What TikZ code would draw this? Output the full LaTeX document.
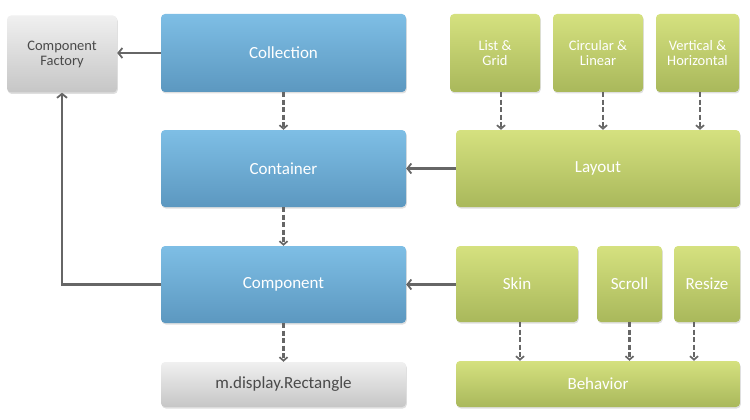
\documentclass[tikz,border=0pt]{standalone}
\usepackage{fontspec}
\setmainfont{Carlito}
\usetikzlibrary{arrows.meta,shadows,calc}
\definecolor{bluetop}{HTML}{7EBEE5}
\definecolor{bluebot}{HTML}{5C98C0}
\definecolor{greentop}{HTML}{D5E17F}
\definecolor{greenbot}{HTML}{A9B85B}
\definecolor{graytop}{HTML}{F0F0F0}
\definecolor{graybot}{HTML}{C6C6C6}
\definecolor{linegray}{HTML}{666666}
\definecolor{graytext}{HTML}{4A4A4A}
\tikzset{
  basebox/.style={rectangle, rounded corners=4pt, inner sep=2pt, align=center,
    drop shadow={opacity=0.25, shadow xshift=0.8pt, shadow yshift=-1.5pt}},
  bluebox/.style={basebox, top color=bluetop, bottom color=bluebot, text=white,
    font=\fontsize{17}{18}\selectfont},
  greenbig/.style={basebox, top color=greentop, bottom color=greenbot, text=white,
    font=\fontsize{17}{18}\selectfont},
  greensmall/.style={basebox, top color=greentop, bottom color=greenbot, text=white,
    font=\fontsize{14.5}{15}\selectfont},
  graybox/.style={basebox, top color=graytop, bottom color=graybot, text=graytext},
  solidarrow/.style={draw=linegray, line width=2.6pt, -{Straight Barb[length=4pt,width=10pt,line width=1.8pt]}},
  dasharrow/.style={draw=linegray, line width=2.6pt, dash pattern=on 5pt off 2.5pt,
    -{Straight Barb[length=3.5pt,width=8pt,line width=1.7pt]}},
}
\begin{document}
\begin{tikzpicture}[x=1pt,y=-1pt]
\useasboundingbox (0,0) rectangle (750,420);
% gray boxes
\node[graybox, minimum width=110pt, minimum height=77pt, font=\fontsize{14.5}{15}\selectfont] (fact) at (62,54) {Component\\Factory};
\node[graybox, minimum width=245pt, minimum height=45pt, font=\fontsize{17}{18}\selectfont] (rect) at (283.5,384.5) {m.display.Rectangle};
% blue boxes
\node[bluebox, minimum width=245pt, minimum height=78pt] (coll) at (283.5,53) {Collection};
\node[bluebox, minimum width=245pt, minimum height=77pt] (cont) at (283.5,168.5) {Container};
\node[bluebox, minimum width=245pt, minimum height=77pt] (comp) at (283.5,284.5) {Component};
% green boxes
\node[greensmall, minimum width=90pt, minimum height=78pt] (lg) at (495,53) {List \&\\Grid};
\node[greensmall, minimum width=90pt, minimum height=78pt] (cl) at (598,53) {Circular \&\\Linear};
\node[greensmall, minimum width=83pt, minimum height=78pt] (vh) at (697.5,53) {Vertical \&\\Horizontal};
\node[greenbig, minimum width=284pt, minimum height=77pt] (lay) at (598,168.5) {Layout};
\node[greenbig, minimum width=122pt, minimum height=76pt] (skin) at (517,284) {Skin};
\node[greenbig, minimum width=65pt, minimum height=76pt] (scroll) at (629.5,284) {Scroll};
\node[greenbig, minimum width=66pt, minimum height=76pt] (resize) at (707,284) {Resize};
\node[greenbig, minimum width=284pt, minimum height=46pt] (beh) at (598,384) {Behavior};
% solid arrows
\draw[solidarrow] (coll.west) -- (fact.east |- coll.west);
\draw[solidarrow] (comp.west) -| (fact.south);
\draw[solidarrow] (lay.west) -- (cont.east |- lay.west);
\draw[solidarrow] (skin.west |- comp.east) -- (comp.east);
% dashed arrows
\draw[dasharrow] (coll.south) -- (cont.north);
\draw[dasharrow] (cont.south) -- (comp.north);
\draw[dasharrow] (comp.south) -- (rect.north);
\draw[dasharrow] ([xshift=6pt]lg.south) -- ([xshift=6pt]lg.south |- lay.north);
\draw[dasharrow] ([xshift=5pt]cl.south) -- ([xshift=5pt]cl.south |- lay.north);
\draw[dasharrow] ([xshift=2.5pt]vh.south) -- ([xshift=2.5pt]vh.south |- lay.north);
\draw[dasharrow] ([xshift=3pt]skin.south) -- ([xshift=3pt]skin.south |- beh.north);
\draw[dasharrow] (scroll.south) -- (scroll.south |- beh.north);
\draw[dasharrow] ([xshift=-13pt]resize.south) -- ([xshift=-13pt]resize.south |- beh.north);
\end{tikzpicture}
\end{document}
